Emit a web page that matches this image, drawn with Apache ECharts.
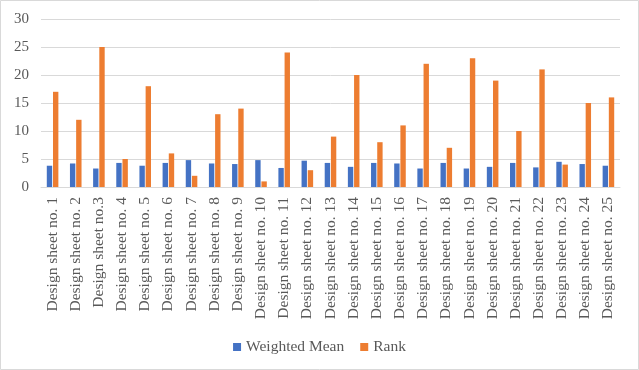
<!DOCTYPE html>
<html>
<head>
<meta charset="utf-8">
<script src="https://cdn.jsdelivr.net/npm/echarts@6/dist/echarts.min.js"></script>
<style>
html,body{margin:0;padding:0;background:#fff;}
#c{width:639px;height:370px;}
</style>
</head>
<body>
<div id="c"></div>
<script>
const categories = ["Design sheet no. 1","Design sheet no. 2","Design sheet no.3","Design sheet no. 4","Design sheet no. 5","Design sheet no. 6","Design sheet no. 7","Design sheet no. 8","Design sheet no. 9","Design sheet no. 10","Design sheet no. 11","Design sheet no. 12","Design sheet no. 13","Design sheet no. 14","Design sheet no. 15","Design sheet no. 16","Design sheet no. 17","Design sheet no. 18","Design sheet no. 19","Design sheet no. 20","Design sheet no. 21","Design sheet no. 22","Design sheet no. 23","Design sheet no. 24","Design sheet no. 25"];
const weightedMean = [3.8,4.2,3.3,4.3,3.8,4.3,4.8,4.2,4.1,4.8,3.4,4.7,4.3,3.6,4.3,4.2,3.3,4.3,3.3,3.6,4.3,3.5,4.5,4.1,3.8];
const rank = [17,12,25,5,18,6,2,13,14,1,24,3,9,20,8,11,22,7,23,19,10,21,4,15,16];
const yTicks = {min:0, max:30, interval:5};

const font = "'Liberation Serif', 'DejaVu Serif', serif";
const chart = echarts.init(document.getElementById('c'), null, {renderer:'canvas'});
chart.setOption({
  animation:false,
  backgroundColor:'#fff',
  graphic:[{type:'rect', shape:{x:0.5,y:0.5,width:638,height:369}, style:{fill:'none', stroke:'#d9d9d9', lineWidth:1}}],
  grid:{left:41, right:19, top:19, bottom:183, containLabel:false},
  legend:{
    bottom:10, left:'center',
    itemWidth:8, itemHeight:8, itemGap:16,
    icon:'rect',
    textStyle:{fontFamily:font, fontSize:15.5, color:'#595959'},
    data:['Weighted Mean','Rank']
  },
  xAxis:{
    type:'category', data:categories,
    axisLine:{lineStyle:{color:'#d9d9d9'}},
    axisTick:{show:false},
    axisLabel:{rotate:90, interval:0, margin:10, fontFamily:font, fontSize:15.5, color:'#595959'}
  },
  yAxis:{
    type:'value', min:yTicks.min, max:yTicks.max, interval:yTicks.interval,
    axisLine:{show:false}, axisTick:{show:false},
    splitLine:{lineStyle:{color:'#d9d9d9', width:1}},
    axisLabel:{fontFamily:font, fontSize:15, color:'#595959', margin:12}
  },
  series:[
    {name:'Weighted Mean', type:'bar', data:weightedMean, itemStyle:{color:'#4472C4'}, barGap:'15%', barCategoryGap:'50%'},
    {name:'Rank', type:'bar', data:rank, itemStyle:{color:'#ED7D31'}, barGap:'15%', barCategoryGap:'50%'}
  ]
});
</script>
</body>
</html>
